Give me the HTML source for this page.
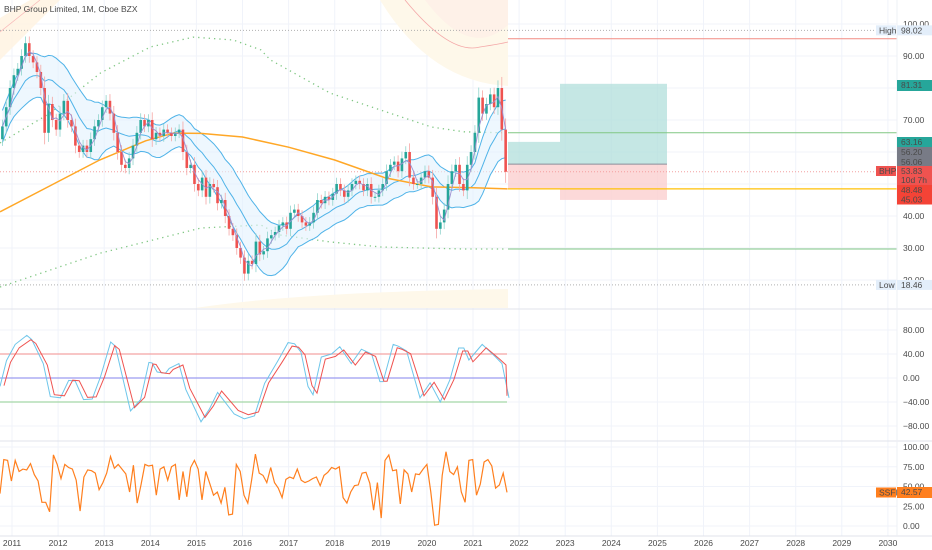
<!DOCTYPE html>
<html><head><meta charset="utf-8"><style>
body{margin:0;background:#fff;}
svg{display:block;font-family:"Liberation Sans",sans-serif;}
.ax{font-size:8.5px;fill:#4a4a4a;}
</style></head><body>
<svg id="c" width="932" height="550" viewBox="0 0 932 550">
</svg>
<script>
// ---- data ----
const closes=[68,74,80,
84,86,90,94,90,88,85,80,66,75,70,67,
72,76,70,68,62,60,62,60,64,68,70,74,
76,72,66,60,56,55,58,62,66,70,68,70,
64,66,65,67,66,65,66,67,60,55,56,50,
48,52,46,50,49,44,45,40,36,34,30,27,
22,26,25,32,28,29,33,34,35,37,38,36,
41,42,40,38,37,38,41,45,44,46,45,47,
50,48,46,48,50,51,50,48,50,46,46,48,
50,54,56,57,54,58,60,52,50,50,52,54,
52,46,36,38,42,50,54,56,50,48,56,60,
66,77,72,75,78,74,80,67,53.83];
const startYear=2010.75;
const orangeDates=[2010.74,2011.9,2012.9,2013.9,2014.5,2015.1,2016.0,2017.0,2018.0,2019.1,2020.1,2021.0,2021.75];
const orangeVals=[41.3,50,57.5,63.5,65.9,65.8,64.7,61.5,57.5,51.9,49.1,48.8,48.48];
const greenUpDates=[2010.74,2011.83,2012.92,2014.0,2014.93,2015.8,2016.4,2016.6,2017.9,2019.0,2020.1,2020.8,2021.7];
const greenUpVals=[62.8,72.2,84.7,92.8,95.9,95,91.9,88.8,78.4,73.1,67.8,66.3,66];
const greenLoDates=[2010.74,2012.92,2015.1,2016.4,2016.8,2017.9,2019.0,2020.8,2021.7];
const greenLoVals=[17.8,28.4,36.25,37.2,34.1,31.9,30.3,29.7,29.7];
const oscDates=[2010.74,2010.88,2011.07,2011.32,2011.43,2011.68,2011.83,2012.05,2012.23,2012.37,2012.55,2012.74,2012.92,2013.14,2013.24,2013.57,2013.79,2013.97,2014.04,2014.15,2014.33,2014.41,2014.62,2014.77,2015.10,2015.28,2015.46,2015.82,2016.04,2016.26,2016.48,2016.77,2016.99,2017.13,2017.27,2017.42,2017.53,2017.71,2017.93,2018.11,2018.36,2018.58,2018.80,2018.98,2019.05,2019.27,2019.38,2019.56,2019.85,2020.07,2020.29,2020.50,2020.69,2020.80,2020.91,2021.20,2021.49,2021.63,2021.78];
const oscVals=[-14,29,56,71,64,24,-31,-33,-4,-5,-36,-35,2,60,53,-55,-36,26,25,10,8,16,24,-19,-73,-52,-24,-60,-68,-63,-9,29,59,57,43,-14,-28,35,40,52,24,48,40,-6,-6,56,53,45,-33,-8,-40,-3,50,50,30,56,35,24,-33];
const ssfiVals=[41,84,83,57,83,69,72,71,79,65,57,30,30,18,90,78,60,78,74,72,58,19,62,71,70,67,46,55,67,88,73,78,72,66,43,77,29,52,78,76,77,39,72,75,58,75,78,33,69,37,74,83,72,33,69,54,39,43,29,49,14,15,78,69,39,29,58,91,67,64,55,74,55,48,36,59,62,60,72,58,55,57,60,62,51,64,68,74,72,75,36,29,43,51,52,67,68,54,20,55,10,83,90,70,71,28,71,66,43,66,65,72,78,43,1,2,64,94,69,65,75,43,30,83,84,39,53,81,84,76,48,52,67,42.57];
const priceTicks=[100,90,70,40,30,20];
const oscTicks=[80,40,0,-40,-80];
const ssfiTicks=[100,75,50,25,0];
const yearLabels=[2011,2012,2013,2014,2015,2016,2017,2018,2019,2020,2021,2022,2023,2024,2025,2026,2027,2028,2029,2030];

// ---- scales ----
const X=t=>12+(t-2011)*46.1;
const Y=v=>24+(100-v)*3.2;
const YO=v=>378-v*0.6;
const YS=v=>526-v*0.79;
const PW=897;
const svg=document.getElementById('c');
const NS='http://www.w3.org/2000/svg';
function mk(tag,attrs,name,parent){const e=document.createElementNS(NS,tag);for(const k in attrs)e.setAttribute(k,attrs[k]);


(parent||svg).appendChild(e);return e;}
function txt(x,y,s,cls,name,extra){const e=mk('text',Object.assign({x:x,y:y,class:cls||'ax'},extra||{}),name);e.textContent=s;return e;}
const poly=pts=>pts.map(p=>p[0].toFixed(1)+','+p[1].toFixed(1)).join(' ');
const candleT=i=>startYear+(i+0.5)/12;

// grid
yearLabels.forEach(y=>mk('line',{x1:X(y),x2:X(y),y1:0,y2:536,stroke:'#f0f3fa','stroke-width':1},'grid-v'));
[100,90,80,70,60,50,40,30,20].forEach(v=>mk('line',{x1:0,x2:PW,y1:Y(v),y2:Y(v),stroke:'#f0f3fa'},'grid-h'));
oscTicks.forEach(v=>mk('line',{x1:0,x2:PW,y1:YO(v),y2:YO(v),stroke:'#f0f3fa'},'osc-grid'));
ssfiTicks.forEach(v=>mk('line',{x1:0,x2:PW,y1:YS(v),y2:YS(v),stroke:'#f0f3fa'},'ssfi-grid'));

// decorative shading
mk('polygon',{points:'0,18 30,0 60,0 0,60',fill:'#fff3e0',opacity:0.8},'top-left-zone');
mk('line',{x1:0,x2:40,y1:32,y2:0,stroke:'#f8b8b8','stroke-width':0.7},'top-left-line');
mk('path',{d:'M380,0 Q430,82 508,86 L508,0 Z',fill:'#fef8ea'},'top-zone');
mk('path',{d:'M425,0 Q470,60 508,25 L508,0 Z',fill:'#fdece6',opacity:0.6},'top-zone-red');
mk('path',{d:'M405,0 Q450,55 480,47 Q500,44 508,42',fill:'none',stroke:'#f4a8a8','stroke-width':0.8},'top-red-curve');
mk('path',{d:'M195,308 Q300,292 508,289 L508,308 Z',fill:'#fef8ea'},'bottom-zone');
txt(4,12,'BHP Group Limited, 1M, Cboe BZX','ax','chart-title',{fill:'#555','font-size':'9'});

// position box
mk('rect',{x:508,y:Y(63.16),width:52,height:Y(56.2)-Y(63.16),fill:'#b2dfdb',opacity:0.75},'target-zone-1');
mk('rect',{x:508,y:Y(56.2),width:52,height:Y(48.48)-Y(56.2),fill:'#fbd0d0',opacity:0.8},'stop-zone-1');
mk('rect',{x:560,y:Y(81.31),width:107,height:Y(56.2)-Y(81.31),fill:'#b2dfdb',opacity:0.75},'target-zone-2');
mk('rect',{x:560,y:Y(56.2),width:107,height:Y(45.03)-Y(56.2),fill:'#fbd0d0',opacity:0.8},'stop-zone-2');
mk('line',{x1:508,x2:667,y1:Y(56.2),y2:Y(56.2),stroke:'#8a8e9a'},'entry-line');

// horizontal reference lines
mk('line',{x1:0,x2:PW,y1:Y(98.02),y2:Y(98.02),stroke:'#b0b0b0','stroke-dasharray':'1,2'},'high-line');
mk('line',{x1:0,x2:PW,y1:Y(18.46),y2:Y(18.46),stroke:'#b0b0b0','stroke-dasharray':'1,2'},'low-line');
mk('line',{x1:0,x2:PW,y1:Y(53.83),y2:Y(53.83),stroke:'#f4a0a0','stroke-dasharray':'1,2'},'last-price-line');
mk('line',{x1:508,x2:PW,y1:Y(95.4),y2:Y(95.4),stroke:'#f28b82'},'red-level');
mk('line',{x1:508,x2:PW,y1:Y(66),y2:Y(66),stroke:'#81c784'},'green-up-level');
mk('line',{x1:508,x2:PW,y1:Y(29.7),y2:Y(29.7),stroke:'#81c784'},'green-lo-level');
mk('line',{x1:508,x2:PW,y1:Y(48.48),y2:Y(48.48),stroke:'#ffc107','stroke-width':1.2},'orange-level');

// curves
const smooth=(ds,vs,yf)=>ds.map((d,i)=>[X(d),yf(vs[i])]);
mk('polyline',{points:poly(smooth(greenUpDates,greenUpVals,Y)),fill:'none',stroke:'#81c784','stroke-width':1.3,'stroke-dasharray':'1.3,4'},'green-upper-cycle');
mk('polyline',{points:poly(smooth(greenLoDates,greenLoVals,Y)),fill:'none',stroke:'#81c784','stroke-width':1.3,'stroke-dasharray':'1.3,4'},'green-lower-cycle');

// bands from closes
const N=closes.length,mid=[],up=[],lo=[],ma3=[];
for(let i=0;i<N;i++){const w=closes.slice(Math.max(0,i-11),i+1);const m=w.reduce((a,b)=>a+b,0)/w.length;
const w2=closes.slice(Math.max(0,i-19),i+1);const m2=w2.reduce((a,b)=>a+b,0)/w2.length;
const sd=Math.sqrt(w2.reduce((a,b)=>a+(b-m2)*(b-m2),0)/w2.length);const h=Math.max(5,Math.min(9,sd*0.9));
mid.push(m);up.push(m+h);lo.push(m-h);
const w3=closes.slice(Math.max(0,i-2),i+1);ma3.push(w3.reduce((a,b)=>a+b,0)/w3.length);}
const upP=up.map((v,i)=>[X(candleT(i)),Y(v)]),loP=lo.map((v,i)=>[X(candleT(i)),Y(v)]);
mk('polygon',{points:poly(upP.concat(loP.slice().reverse())),fill:'#e3f2fd',opacity:0.6},'band-fill');
mk('polyline',{points:poly(upP),fill:'none',stroke:'#4fb3e8','stroke-width':1},'band-upper');
mk('polyline',{points:poly(mid.map((v,i)=>[X(candleT(i)),Y(v)])),fill:'none',stroke:'#4fb3e8','stroke-width':1},'band-middle');
mk('polyline',{points:poly(loP),fill:'none',stroke:'#4fb3e8','stroke-width':1},'band-lower');
mk('polyline',{points:poly(smooth(orangeDates,orangeVals,Y)),fill:'none',stroke:'#ffa726','stroke-width':1.5},'long-ma');

// candles
for(let i=0;i<N;i++){const o=i?closes[i-1]:64,c=closes[i];const x=X(candleT(i));const upc=c>=o;const col=upc?'#26a69a':'#ef5350';
const hi=Math.max(o,c)+1.5+Math.abs(c-o)*0.15,lw=Math.min(o,c)-1.5-Math.abs(c-o)*0.15;
mk('line',{x1:x,x2:x,y1:Y(hi),y2:Y(lw),stroke:upc?'#8fd3cc':'#f5a5a3','stroke-width':0.8},'candle-wick');
mk('rect',{x:x-1.3,y:Y(Math.max(o,c)),width:2.6,height:Math.max(1,Math.abs(Y(o)-Y(c))),fill:col},'candle-body');}
mk('polyline',{points:poly(ma3.map((v,i)=>[X(candleT(i)),Y(v)])),fill:'none',stroke:'#9c8fd0','stroke-width':0.9},'short-ma');

// pane dividers
mk('line',{x1:0,x2:932,y1:309,y2:309,stroke:'#e0e3eb'},'pane-divider-1');
mk('line',{x1:0,x2:932,y1:441,y2:441,stroke:'#e0e3eb'},'pane-divider-2');
mk('line',{x1:0,x2:932,y1:536,y2:536,stroke:'#e0e3eb'},'time-axis-border');
mk('line',{x1:PW,x2:PW,y1:0,y2:536,stroke:'#eef0f5'},'price-axis-border');

// oscillator
mk('line',{x1:0,x2:507,y1:YO(40),y2:YO(40),stroke:'#f4a3a3','stroke-width':1.2},'osc-upper-level');
mk('line',{x1:0,x2:507,y1:YO(0),y2:YO(0),stroke:'#9c9cf0','stroke-width':1.2},'osc-zero-level');
mk('line',{x1:0,x2:507,y1:YO(-40),y2:YO(-40),stroke:'#a5d6a7','stroke-width':1.2},'osc-lower-level');
mk('polyline',{points:poly(oscDates.map((d,i)=>[X(d),YO(oscVals[i])])),fill:'none',stroke:'#6ec6ea','stroke-width':1},'osc-fast-line');
mk('polyline',{points:poly(oscDates.map((d,i)=>[Math.min(507,X(d)+4),YO(oscVals[i]*0.9)])),fill:'none',stroke:'#ef5350','stroke-width':1},'osc-slow-line');

// SSFI
mk('polyline',{points:poly(ssfiVals.map((v,i)=>[i*507/(ssfiVals.length-1),YS(v)])),fill:'none',stroke:'#ff7f1e','stroke-width':1.2},'ssfi-line');

// axis labels
priceTicks.forEach(v=>txt(903,Y(v)+3,v.toFixed(2),'ax','price-tick'));
oscTicks.forEach(v=>txt(903,YO(v)+3,(v<0?'\u2212'+(-v).toFixed(2):v.toFixed(2)),'ax','osc-tick'));
ssfiTicks.forEach(v=>txt(903,YS(v)+3,v.toFixed(2),'ax','ssfi-tick'));
yearLabels.forEach(y=>txt(X(y),546,String(y),'ax','year-label',{'text-anchor':'middle'}));

// tags
function tag(y,h,bg,fg,lines,name){mk('rect',{x:897,y:y,width:35,height:h,fill:bg},name+'-bg');
lines.forEach((s,k)=>txt(901,y+8+k*9,s,'ax',name,{fill:fg}));}
function ltag(y,bg,fg,s,name){mk('rect',{x:876,y:y,width:20,height:10,fill:bg},name+'-bg');txt(879,y+8,s,'ax',name,{fill:fg,'font-size':'7.5'});}
tag(Y(98.02)-5,10,'#e3eefa','#555',['98.02'],'high-tag');ltag(Y(98.02)-5,'#e3eefa','#555','High','high-label');
tag(Y(18.46)-5,10,'#e3eefa','#555',['18.46'],'low-tag');ltag(Y(18.46)-5,'#e3eefa','#555','Low','low-label');
tag(80,11,'#26a69a','#fff',['81.31'],'target-price-tag');
tag(137,10,'#26a69a','#fff',['63.16'],'tp-tag');
tag(147,10,'#787b86','#fff',['56.20'],'entry-tag');
tag(157,9,'#787b86','#fff',['56.06'],'ma-tag');
tag(166,19,'#ef5350','#fff',['53.83','10d 7h'],'last-price-tag');ltag(166,'#ef5350','#fff','BHP','symbol-label');
tag(185,9.5,'#f44336','#fff',['48.48'],'orange-level-tag');
tag(194.5,10,'#f44336','#fff',['45.03'],'stop-tag');
tag(487,11,'#ff7f1e','#fff',['42.57'],'ssfi-tag');ltag(487.5,'#ff7f1e','#fff','SSFI','ssfi-label');
</script>
</body></html>
